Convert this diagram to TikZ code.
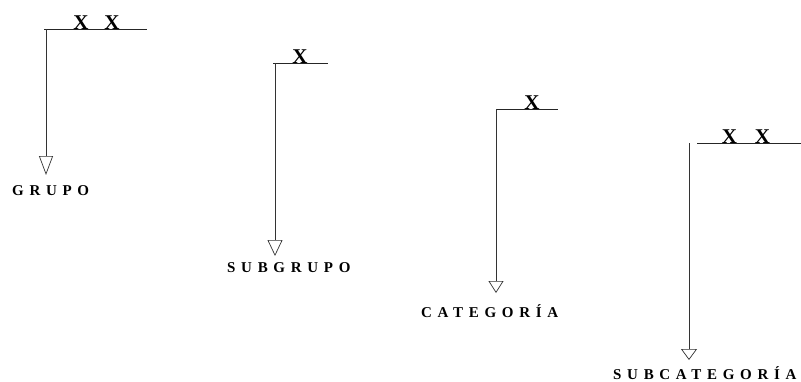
\documentclass[tikz,border=0pt]{standalone}
\usepackage{fontspec}
\setmainfont{Liberation Serif}
\newfontfamily\lblfont[LetterSpace=38]{Liberation Serif}
\usetikzlibrary{arrows.meta}
\tikzset{
  lbl/.style={font=\lblfont\bfseries\fontsize{15}{17}\selectfont, inner sep=0pt, anchor=base west},
  xmk/.style={font=\bfseries\fontsize{21}{23}\selectfont, inner sep=0pt, anchor=base},
  hline/.style={line width=0.8pt, draw=black!85},
  vline/.style={line width=0.7pt, draw=black!80},
}
\begin{document}
\begin{tikzpicture}[x=1pt,y=-1pt]
\useasboundingbox (0,0) rectangle (801,381);
% group 1
\coordinate (h1a) at (44,29); \coordinate (h1b) at (147,29);
\coordinate (v1) at (46,29); \coordinate (t1) at (46,175);
\node[xmk] (x1a) at (81,29) {X};
\node[xmk] (x1b) at (112,29) {X};
\node[lbl] (grupo) at (12,195) {GRUPO};
\draw[hline] (h1a) -- (h1b);
\draw[vline, -{Triangle[open, length=19pt, width=14pt]}] (v1) -- (t1);
% group 2
\coordinate (h2a) at (273,63); \coordinate (h2b) at (328,63);
\coordinate (v2) at (275,63); \coordinate (t2) at (275,256);
\node[xmk] (x2) at (300,63) {X};
\node[lbl] (subgrupo) at (227,272) {SUBGRUPO};
\draw[hline] (h2a) -- (h2b);
\draw[vline, -{Triangle[open, length=16pt, width=15pt]}] (v2) -- (t2);
% group 3
\coordinate (h3a) at (497,109); \coordinate (h3b) at (558,109);
\coordinate (v3) at (496,109); \coordinate (t3) at (496,293);
\node[xmk] (x3) at (532,109) {X};
\node[lbl] (categoria) at (421,317) {CATEGORÍA};
\draw[hline] (h3a) -- (h3b);
\draw[vline, -{Triangle[open, length=12pt, width=15pt]}] (v3) -- (t3);
% group 4
\coordinate (h4a) at (697,143); \coordinate (h4b) at (801,143);
\coordinate (v4) at (689,143); \coordinate (t4) at (689,360);
\node[xmk] (x4a) at (729.5,143) {X};
\node[xmk] (x4b) at (762.5,143) {X};
\node[lbl] (subcategoria) at (613,379) {SUBCATEGORÍA};
\draw[hline] (h4a) -- (h4b);
\draw[vline, -{Triangle[open, length=11pt, width=16pt]}] (v4) -- (t4);
\end{tikzpicture}
\end{document}
